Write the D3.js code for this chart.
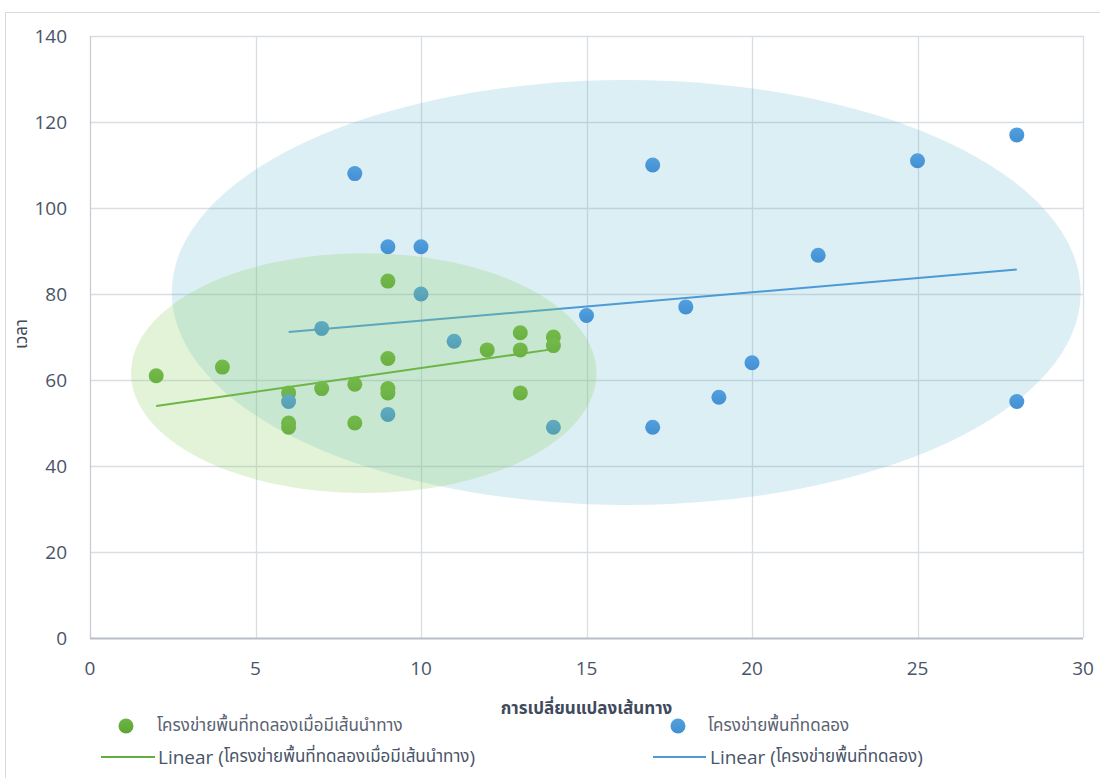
<!DOCTYPE html>
<html>
<head>
<meta charset="utf-8">
<script src="https://cdn.jsdelivr.net/npm/d3@7"></script>
<style>
  html, body { margin: 0; padding: 0; background: #fff; }
  svg { display: block; }
  .tick-label { font-family: "Open Sans", "Noto Sans", sans-serif; font-size: 19px; fill: #4a5468; }
  .thai { font-family: "Noto Sans Thai", "Noto Sans Thai UI", "Leelawadee UI", "Tahoma", "Noto Sans", sans-serif; }
</style>
</head>
<body>
<script>
// Series: route changes (x) vs time (y)
const guidedX = [2, 4, 6, 6, 6, 7, 8, 8, 9, 9, 9, 9, 12, 13, 13, 13, 14, 14];
const guidedY = [61, 63, 57, 50, 49, 58, 59, 50, 83, 65, 58, 57, 67, 71, 67, 57, 70, 68];
const plainX = [8, 9, 10, 10, 7, 11, 6, 9, 14, 15, 17, 17, 18, 19, 20, 22, 25, 28, 28];
const plainY = [108, 91, 91, 80, 72, 69, 55, 52, 49, 75, 110, 49, 77, 56, 64, 89, 111, 117, 55];

const guidedName = "โครงข่ายพื้นที่ทดลองเมื่อมีเส้นนำทาง";
const plainName = "โครงข่ายพื้นที่ทดลอง";
const xTitle = "การเปลี่ยนแปลงเส้นทาง";
const yTitle = "เวลา";

const xTicks = [0, 5, 10, 15, 20, 25, 30];
const yTicks = [0, 20, 40, 60, 80, 100, 120, 140];

// Cluster ellipses in data units: [centre x, centre y, radius x, radius y]
const guidedCluster = [8.27, 61.6, 7.03, 27.9];
const plainCluster = [16.2, 80.35, 13.73, 49.4];

const W = 1100, H = 778;
const plot = { left: 90, top: 36, right: 1083, bottom: 638 };

const x = d3.scaleLinear().domain([0, 30]).range([plot.left, plot.right]);
const y = d3.scaleLinear().domain([0, 140]).range([plot.bottom, plot.top]);

const svg = d3.select("body").append("svg").attr("width", W).attr("height", H);

// chart area border
svg.append("rect").attr("x", 5.5).attr("y", 12.5).attr("width", W + 10).attr("height", H + 10)
  .attr("fill", "none").attr("stroke", "#d9d9d9").attr("stroke-width", 1);

const defs = svg.append("defs");
function markerGradient(id, light, dark) {
  const g = defs.append("linearGradient").attr("id", id)
    .attr("x1", 0).attr("y1", 0).attr("x2", 0).attr("y2", 1);
  g.append("stop").attr("offset", "0%").attr("stop-color", light);
  g.append("stop").attr("offset", "100%").attr("stop-color", dark);
}
markerGradient("gGreen", "#6cb444", "#5ea536");
markerGradient("gBlue", "#52a0de", "#438fd2");

// gridlines
svg.append("g").selectAll("line").data(yTicks.filter(d => d > 0)).join("line")
  .attr("x1", plot.left).attr("x2", plot.right)
  .attr("y1", d => Math.round(y(d)) + 0.5).attr("y2", d => Math.round(y(d)) + 0.5)
  .attr("stroke", "#d9dde4").attr("stroke-width", 1.3);
svg.append("g").selectAll("line").data(xTicks.filter(d => d > 0)).join("line")
  .attr("y1", plot.top).attr("y2", plot.bottom)
  .attr("x1", d => Math.round(x(d)) + 0.5).attr("x2", d => Math.round(x(d)) + 0.5)
  .attr("stroke", "#d9dde4").attr("stroke-width", 1.3);

// plain-network cluster ellipse (under the markers)
svg.append("ellipse")
  .attr("cx", x(plainCluster[0])).attr("cy", y(plainCluster[1]))
  .attr("rx", x(plainCluster[2]) - x(0)).attr("ry", y(0) - y(plainCluster[3]))
  .attr("fill", "rgba(80,176,200,0.2)");

// axis lines
svg.append("line").attr("x1", plot.left + 0.5).attr("x2", plot.left + 0.5)
  .attr("y1", plot.top).attr("y2", plot.bottom).attr("stroke", "#c8ccd4").attr("stroke-width", 1.3);
svg.append("line").attr("x1", plot.left).attr("x2", plot.right)
  .attr("y1", plot.bottom + 0.5).attr("y2", plot.bottom + 0.5).attr("stroke", "#b8bec8").attr("stroke-width", 2);

// axis tick labels
svg.append("g").selectAll("text").data(yTicks).join("text")
  .attr("class", "tick-label").attr("x", 67).attr("y", d => y(d))
  .attr("text-anchor", "end").attr("dominant-baseline", "central").text(d => d);
svg.append("g").selectAll("text").data(xTicks).join("text")
  .attr("class", "tick-label").attr("x", d => x(d)).attr("y", 668)
  .attr("text-anchor", "middle").attr("dominant-baseline", "central").text(d => d);

// axis titles
svg.append("text").attr("class", "thai").attr("x", x(15)).attr("y", 709)
  .attr("text-anchor", "middle").attr("dominant-baseline", "central")
  .attr("font-size", 17).attr("font-weight", "bold").attr("fill", "#3f4a5c").text(xTitle);
svg.append("text").attr("class", "thai")
  .attr("transform", `translate(22,334) rotate(-90)`)
  .attr("text-anchor", "middle").attr("dominant-baseline", "central")
  .attr("font-size", 17).attr("fill", "#3f4a5c").text(yTitle);

// least-squares trendline over the series' x range
function linearFit(xs, ys) {
  const mx = d3.mean(xs), my = d3.mean(ys);
  let sxy = 0, sxx = 0;
  xs.forEach((v, i) => { sxy += (v - mx) * (ys[i] - my); sxx += (v - mx) * (v - mx); });
  const b = sxy / sxx, a = my - b * mx;
  const x0 = d3.min(xs), x1 = d3.max(xs);
  return [[x0, a + b * x0], [x1, a + b * x1]];
}
const line = d3.line().x(d => x(d[0])).y(d => y(d[1]));

svg.append("path").datum(linearFit(plainX, plainY)).attr("d", line)
  .attr("stroke", "#4c9ad6").attr("stroke-width", 2).attr("fill", "none");
svg.append("path").datum(linearFit(guidedX, guidedY)).attr("d", line)
  .attr("stroke", "#63ad3d").attr("stroke-width", 2).attr("fill", "none");

// markers
svg.append("g").selectAll("circle").data(guidedX.map((v, i) => [v, guidedY[i]])).join("circle")
  .attr("cx", d => x(d[0])).attr("cy", d => y(d[1])).attr("r", 7.5).attr("fill", "url(#gGreen)");
svg.append("g").selectAll("circle").data(plainX.map((v, i) => [v, plainY[i]])).join("circle")
  .attr("cx", d => x(d[0])).attr("cy", d => y(d[1])).attr("r", 7.5).attr("fill", "url(#gBlue)");

// guided-network cluster ellipse (over the markers)
svg.append("ellipse")
  .attr("cx", x(guidedCluster[0])).attr("cy", y(guidedCluster[1]))
  .attr("rx", x(guidedCluster[2]) - x(0)).attr("ry", y(0) - y(guidedCluster[3]))
  .attr("fill", "rgba(140,208,100,0.25)");

// legend
const lg = svg.append("g");
lg.append("circle").attr("cx", 126).attr("cy", 726).attr("r", 7.5).attr("fill", "url(#gGreen)");
lg.append("text").attr("class", "thai").attr("x", 157).attr("y", 726).attr("dominant-baseline", "central")
  .attr("font-size", 17).attr("fill", "#5a6270").text(guidedName);
lg.append("circle").attr("cx", 678).attr("cy", 726).attr("r", 7.5).attr("fill", "url(#gBlue)");
lg.append("text").attr("class", "thai").attr("x", 708).attr("y", 726).attr("dominant-baseline", "central")
  .attr("font-size", 17).attr("fill", "#5a6270").text(plainName);

function trendLegend(x0, x1, tx, color, name) {
  lg.append("line").attr("x1", x0).attr("x2", x1).attr("y1", 757).attr("y2", 757)
    .attr("stroke", color).attr("stroke-width", 2);
  const t = lg.append("text").attr("x", tx).attr("y", 757).attr("dominant-baseline", "central")
    .attr("fill", "#4a5468");
  t.append("tspan").attr("font-family", "'Open Sans', sans-serif").attr("font-size", 19).text("Linear (");
  t.append("tspan").attr("class", "thai").attr("font-size", 17).text(name);
  t.append("tspan").attr("font-family", "'Open Sans', sans-serif").attr("font-size", 19).text(")");
}
trendLegend(101, 155, 158, "#63ad3d", guidedName);
trendLegend(653, 706, 710, "#4c9ad6", plainName);
</script>
</body>
</html>
